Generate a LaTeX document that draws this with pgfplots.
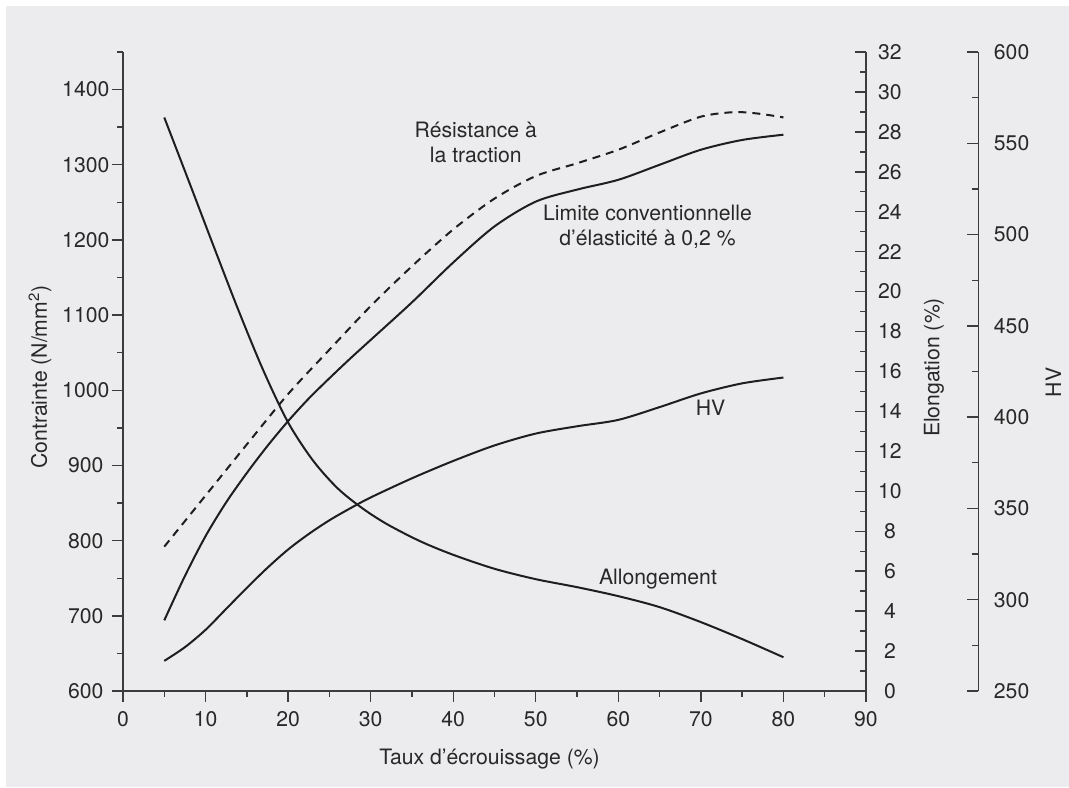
\documentclass[border=0pt]{standalone}
\usepackage{fontspec}
\setmainfont{TeX Gyre Heros}
\usepackage{pgfplots}
\pgfplotsset{compat=1.18}
\definecolor{bg}{RGB}{236,236,238}
\definecolor{txt}{RGB}{40,40,40}
\definecolor{ln}{RGB}{30,30,30}
\definecolor{axc}{RGB}{60,60,60}

\pgfplotsset{
  common/.style={
    scale only axis, width=371.5pt, height=319.5pt,
    at={(61.5pt,48pt)}, anchor=south west,
    xmin=0, xmax=90,
    axis line style={-, draw=axc, line width=0.7pt},
    every outer x axis line/.append style={-},
    every outer y axis line/.append style={-},
    tick style={draw=axc, line width=0.7pt},
    major tick length=5.6pt, minor tick length=2.9pt,
    tick label style={font=\fontsize{10.6}{12}\selectfont, text=txt},
    /pgf/number format/assume math mode=true,
    /pgf/number format/1000 sep={},
    scaled ticks=false,
    clip=false,
  },
  curve/.style={draw=ln, line width=1pt, smooth, no marks},
}

\begin{document}
\begin{tikzpicture}
\path[use as bounding box, fill=white] (0,0) rectangle (534.5pt,393.5pt);
\fill[bg] (3pt,0) rectangle (534.5pt,390.5pt);

% main axis: Contrainte
\begin{axis}[common,
  axis x line*=bottom, axis y line*=left,
  ymin=600, ymax=1450,
  xtick={0,10,...,90}, minor xtick={5,15,...,85},
  ytick={600,700,...,1400}, minor ytick={650,750,...,1450},
  tick align=outside,
  xticklabel style={anchor=center, yshift=-8.6pt},
  yticklabel style={anchor=center, xshift=-13pt},
]
% Resistance a la traction (dashed)
\addplot[curve, dash pattern=on 4pt off 3pt] coordinates {
(5,792) (10,860) (15,928) (20,995) (25,1054) (30,1112) (35,1165)
(40,1214) (45,1255) (50,1285) (55,1302) (60,1320) (65,1343)
(70,1364) (74,1370) (77,1368) (80,1363)};
% Limite conventionnelle
\addplot[curve] coordinates {
(5,694) (7.5,753) (10,806) (12.5,851) (15,890) (17.5,926) (20,959)
(22.5,989) (25,1016) (27.5,1042) (30,1067) (35,1117) (40,1170)
(45,1218) (50,1251) (55,1267) (60,1280) (65,1300) (70,1320) (75,1333)
(80,1340)};
\end{axis}

% Elongation axis
\begin{axis}[common,
  axis x line=none, axis y line*=right,
  ymin=0, ymax=32,
  ytick={0,2,...,32}, minor ytick={1,3,...,31},
  tick align=inside,
  yticklabel style={anchor=center, xshift=12pt},
]
\addplot[curve] coordinates {
(5,28.72) (8,25.5) (11,22.25) (14,19.05) (17,16.05) (20,13.45)
(23,11.55) (26,10.15) (29,9.15) (32,8.35) (36,7.5) (40,6.82) (45,6.12)
(50,5.6) (55,5.2) (60,4.75) (65,4.2) (70,3.45) (75,2.6) (80,1.69)};
\end{axis}

% HV curve (hidden axis, same geometry)
\begin{axis}[common, hide axis, ymin=250, ymax=600]
\addplot[curve] coordinates {
(5,266.5) (7.5,274) (10,283.5) (12.5,295) (15,306.5) (17.5,317.5)
(20,327.5) (22.5,336) (25,343.5) (27.5,350) (30,356) (35,366.5)
(40,376) (45,384.5) (50,391) (55,395) (60,398.5) (65,405.5) (70,413)
(75,418.5) (80,421.7)};
\end{axis}

% HV scale
\begin{axis}[scale only axis, width=20pt, height=319.5pt,
  at={(489.2pt,48pt)}, anchor=south east,
  xmin=0, xmax=1, ymin=250, ymax=600,
  axis x line=none, axis y line*=right,
  axis line style={-, draw=axc, line width=0.7pt},
  every outer y axis line/.append style={-},
  tick style={draw=axc, line width=0.7pt},
  major tick length=5.8pt, minor tick length=3pt,
  tick label style={font=\fontsize{10.6}{12}\selectfont, text=txt},
  /pgf/number format/assume math mode=true,
  ytick={250,300,...,600}, minor ytick={275,325,...,575},
  tick align=inside,
  yticklabel style={anchor=center, xshift=16.6pt},
]
\end{axis}

\begin{scope}[every node/.style={text=txt, font=\fontsize{10.6}{12.5}\selectfont}]
\node[rotate=90] at (20pt,205pt) {Contrainte (N/mm\textsuperscript{2})};
\node at (244.75pt,14pt) {Taux d’écrouissage (\%)};
\node[rotate=90] at (467pt,209.75pt) {Elongation (\%)};
\node[rotate=90] at (526.75pt,202.25pt) {HV};
\node[align=center] at (237.9pt,322.25pt) {Résistance à\\la traction};
\node[align=center] at (323.75pt,280.2pt) {Limite conventionnelle\\d’élasticité à 0,2 \%};
\node[anchor=base] at (355.25pt,185.5pt) {HV};
\node[anchor=base] at (329pt,101.5pt) {Allongement};
\end{scope}
\end{tikzpicture}
\end{document}
